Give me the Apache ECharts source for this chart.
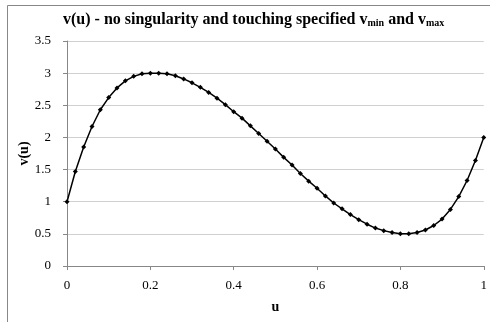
<!DOCTYPE html>
<html><head><meta charset="utf-8">
<script src="https://cdn.jsdelivr.net/npm/echarts@6/dist/echarts.min.js"></script>
<style>html,body{margin:0;padding:0;background:#fff}#c{width:490px;height:322px}</style>
</head><body><div id="c"></div>
<script>
const uValues = [0,0.02,0.04,0.06,0.08,0.1,0.12,0.14,0.16,0.18,0.2,0.22,0.24,0.26,0.28,0.3,0.32,0.34,0.36,0.38,0.4,0.42,0.44,0.46,0.48,0.5,0.52,0.54,0.56,0.58,0.6,0.62,0.64,0.66,0.68,0.7,0.72,0.74,0.76,0.78,0.8,0.82,0.84,0.86,0.88,0.9,0.92,0.94,0.96,0.98,1];
const vValues = [1.0,1.47,1.85,2.17,2.43,2.62,2.77,2.88,2.95,2.99,3.0,3.0,2.99,2.96,2.91,2.85,2.78,2.70,2.61,2.51,2.40,2.30,2.18,2.06,1.94,1.82,1.69,1.57,1.44,1.32,1.21,1.09,0.98,0.89,0.80,0.72,0.65,0.59,0.55,0.52,0.50,0.50,0.52,0.56,0.63,0.73,0.88,1.08,1.33,1.64,2.0];
const titleText = 'v(u) - no singularity and touching specified v{sub|min} and v{sub|max}';
const xName = 'u';
const yName = 'v(u)';

const font = 'Liberation Serif';
const chart = echarts.init(document.getElementById('c'), null, {renderer: 'canvas'});
chart.setOption({
  animation: false,
  backgroundColor: '#fff',
  graphic: [{type: 'rect', shape: {x: 7.5, y: 5.5, width: 490, height: 330}, style: {fill: 'none', stroke: '#888', lineWidth: 1}, silent: true}],
  title: {
    text: titleText, left: 58, top: 6,
    textStyle: {fontFamily: font, fontSize: 16, fontWeight: 'bold', color: '#000',
      rich: {sub: {fontFamily: font, fontSize: 10, fontWeight: 'bold', color: '#000', verticalAlign: 'bottom', padding: [7, 0, 0, 0]}}}
  },
  grid: {left: 67, right: 5, top: 41, bottom: 56, containLabel: false},
  xAxis: {
    type: 'value', min: 0, max: 1, interval: 0.2,
    name: xName, nameLocation: 'middle', nameGap: 34, nameMoveOverlap: false,
    nameTextStyle: {fontFamily: font, fontSize: 14, fontWeight: 'bold', color: '#000'},
    axisLine: {show: true, lineStyle: {color: '#888'}},
    axisTick: {show: true, inside: false, length: 4, lineStyle: {color: '#888'}},
    axisLabel: {fontFamily: font, fontSize: 13, color: '#000', margin: 13},
    splitLine: {show: false}
  },
  yAxis: {
    type: 'value', min: 0, max: 3.5, interval: 0.5,
    name: yName, nameLocation: 'middle', nameGap: 36, nameRotate: 90, nameMoveOverlap: false,
    nameTextStyle: {fontFamily: font, fontSize: 14, fontWeight: 'bold', color: '#000'},
    axisLine: {show: true, lineStyle: {color: '#888'}},
    axisTick: {show: true, inside: false, length: 4, lineStyle: {color: '#888'}},
    axisLabel: {fontFamily: font, fontSize: 13, color: '#000', margin: 16},
    splitLine: {show: true, lineStyle: {color: '#d0d0d0', width: 1}}
  },
  series: [{
    type: 'line',
    data: uValues.map((u, i) => [u, vValues[i]]),
    smooth: false,
    symbol: 'diamond', symbolSize: 5,
    lineStyle: {color: '#000', width: 1.5},
    itemStyle: {color: '#000'}
  }]
});
</script></body></html>
